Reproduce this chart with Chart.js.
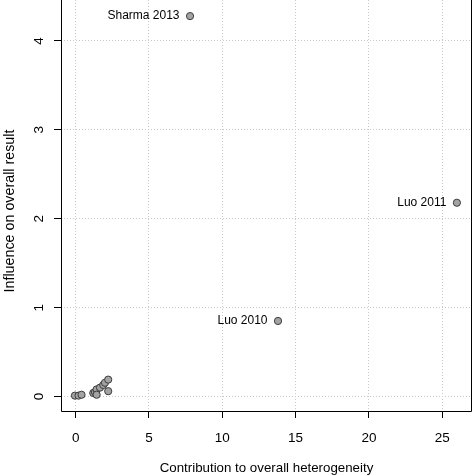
<!DOCTYPE html>
<html>
<head>
<meta charset="utf-8">
<script src="https://cdn.jsdelivr.net/npm/chart.js@4/dist/chart.umd.min.js"></script>
<style>
  html, body { margin: 0; padding: 0; background: #fff; }
  #wrap { width: 473px; height: 476px; }
</style>
</head>
<body>
<div id="wrap"><canvas id="myChart" width="473" height="476"></canvas></div>
<script>
// Valores
const xValues = [-0.05, 0.2, 0.4, 1.2, 1.32, 1.43, 1.43, 1.66, 1.88, 2.0, 2.22, 2.22, 7.8, 13.8, 26.0];
const yValues = [0.01, 0.01, 0.02, 0.04, 0.05, 0.08, 0.02, 0.10, 0.13, 0.155, 0.19, 0.06, 4.28, 0.85, 2.18];
const pointLabels = ['', '', '', '', '', '', '', '', '', '', '', '', 'Sharma 2013', 'Luo 2010', 'Luo 2011'];
const xTicks = [0, 5, 10, 15, 20, 25];
const yTicks = [0, 1, 2, 3, 4];

const fonte = 'Liberation Sans, Arial, sans-serif';

// Plugin para a caixa, rótulos do eixo y (rodados) e nomes dos estudos
const extras = {
    id: 'extras',
    afterDraw(chart) {
        const ctx = chart.ctx;
        const area = chart.chartArea;
        const sy = chart.scales.y;
        const sx = chart.scales.x;
        ctx.save();
        ctx.strokeStyle = '#000';
        ctx.lineWidth = 1;
        ctx.beginPath();
        ctx.moveTo(area.left + 0.5, area.top);
        ctx.lineTo(area.left + 0.5, area.bottom + 0.5);
        ctx.lineTo(area.right - 0.5, area.bottom + 0.5);
        ctx.lineTo(area.right - 0.5, area.top);
        ctx.stroke();

        ctx.fillStyle = '#000';
        ctx.textAlign = 'center';
        ctx.textBaseline = 'middle';
        ctx.font = '13.5px ' + fonte;
        yTicks.forEach(v => {
            ctx.save();
            ctx.translate(39, sy.getPixelForValue(v));
            ctx.rotate(-Math.PI / 2);
            ctx.fillText(String(v), 0, 0);
            ctx.restore();
        });

        // título do eixo y
        ctx.save();
        ctx.font = '14.3px ' + fonte;
        ctx.translate(10, 211);
        ctx.rotate(-Math.PI / 2);
        ctx.fillText('Influence on overall result', 0, 0);
        ctx.restore();

        ctx.font = '12px ' + fonte;
        ctx.textAlign = 'right';
        pointLabels.forEach((lab, i) => {
            if (!lab) return;
            ctx.fillText(lab, sx.getPixelForValue(xValues[i]) - 10.5, sy.getPixelForValue(yValues[i]));
        });
        ctx.restore();
    }
};

const ctx = document.getElementById('myChart').getContext('2d');
const myChart = new Chart(ctx, {
    type: 'scatter',
    data: {
        datasets: [{
            data: xValues.map((x, i) => ({ x: x, y: yValues[i] })),
            backgroundColor: '#a3a3a3',
            borderColor: '#3c3c3c',
            borderWidth: 1,
            pointRadius: 3.6,
            pointHoverRadius: 3.6
        }]
    },
    options: {
        responsive: false,
        animation: false,
        events: [],
        layout: { autoPadding: false, padding: { top: 0, right: 1, bottom: 0, left: 0 } },
        plugins: {
            legend: { display: false },
            tooltip: { enabled: false }
        },
        scales: {
            x: {
                type: 'linear',
                min: -1.0,
                max: 27.03,
                afterBuildTicks: (s) => { s.ticks = xTicks.map(v => ({ value: v })); },
                afterFit: (s) => { s.height = 65; },
                ticks: {
                    color: '#000',
                    font: { family: fonte, size: 13.5 },
                    padding: 12,
                    maxRotation: 0
                },
                grid: {
                    color: '#c8c8c8',
                    tickColor: '#000',
                    tickBorderDash: [],
                    tickLength: 7
                },
                border: { display: false, dash: [1, 2] },
                title: {
                    display: true,
                    text: 'Contribution to overall heterogeneity',
                    color: '#000',
                    font: { family: fonte, size: 13.3 },
                    padding: { top: 0, bottom: 0 }
                }
            },
            y: {
                type: 'linear',
                min: -0.163,
                max: 4.461,
                afterBuildTicks: (s) => { s.ticks = yTicks.map(v => ({ value: v })); },
                afterFit: (s) => { s.width = 61; },
                ticks: { display: false },
                grid: {
                    color: '#c8c8c8',
                    tickColor: '#000',
                    tickBorderDash: [],
                    tickLength: 7
                },
                border: { display: false, dash: [1, 2] },
                title: { display: false }
            }
        }
    },
    plugins: [extras]
});
</script>
</body>
</html>
